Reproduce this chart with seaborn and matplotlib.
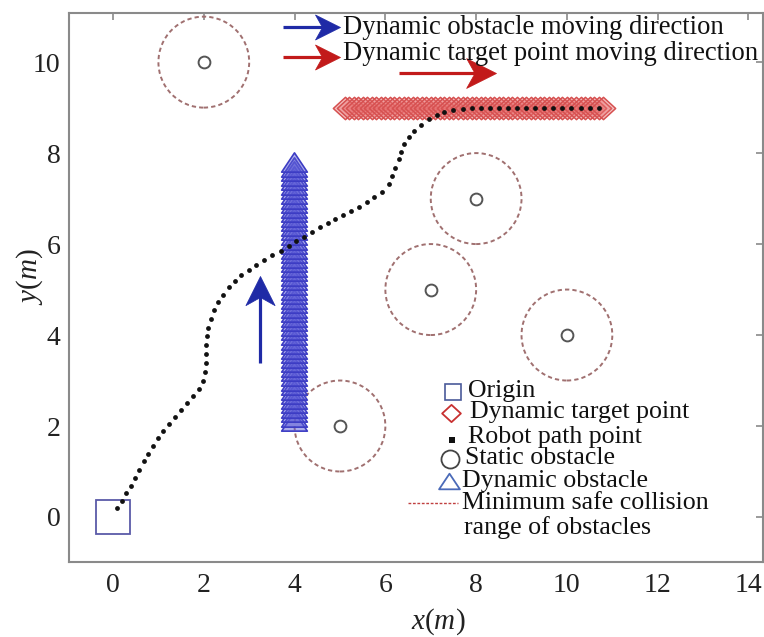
import matplotlib
matplotlib.use("Agg")
import matplotlib.pyplot as plt
import numpy as np
import pandas as pd
import seaborn as sns
from matplotlib.path import Path
from matplotlib.patches import Circle

sns.set_theme(style="white")
plt.rcParams["font.family"] = ["Liberation Serif", "DejaVu Serif"]
plt.rcParams["mathtext.fontset"] = "custom"
plt.rcParams["mathtext.rm"] = "Liberation Serif"
plt.rcParams["mathtext.it"] = "Liberation Serif:italic"

# ---------------- data ----------------
origin_x = [0.0]
origin_y = [0.0]

static_x = [2, 8, 7, 10, 5]
static_y = [10, 7, 5, 4, 2]
safe_radius = 1.0

path_x = [0.08, 0.19, 0.29, 0.39, 0.48, 0.58, 0.68, 0.78, 0.88, 0.99,
          1.10, 1.24, 1.36, 1.49, 1.63, 1.76, 1.89, 1.99, 2.03, 2.04,
          2.04, 2.04, 2.06, 2.09, 2.16, 2.23, 2.32, 2.43, 2.55, 2.69,
          2.83, 2.99, 3.16, 3.33, 3.51, 3.69, 3.87, 4.04, 4.20, 4.39,
          4.56, 4.73, 4.90, 5.07, 5.25, 5.41, 5.59, 5.75, 5.93, 6.07,
          6.15, 6.22, 6.29, 6.35, 6.42, 6.52, 6.64, 6.79, 6.96, 7.13,
          7.30, 7.50, 7.70, 7.90, 8.10, 8.30, 8.50, 8.70, 8.90, 9.10,
          9.30, 9.50, 9.70, 9.90, 10.10, 10.30, 10.50, 10.70]
path_y = [0.19, 0.35, 0.52, 0.69, 0.86, 1.04, 1.22, 1.38, 1.57, 1.73,
          1.89, 2.04, 2.19, 2.35, 2.51, 2.66, 2.81, 2.98, 3.18, 3.38,
          3.58, 3.77, 3.97, 4.16, 4.35, 4.54, 4.72, 4.89, 5.05, 5.19,
          5.33, 5.44, 5.55, 5.66, 5.75, 5.84, 5.96, 6.07, 6.16, 6.27,
          6.37, 6.47, 6.55, 6.64, 6.73, 6.82, 6.92, 7.03, 7.15, 7.31,
          7.49, 7.68, 7.86, 8.03, 8.19, 8.36, 8.49, 8.62, 8.74, 8.84,
          8.90, 8.95, 8.98, 9.00, 9.00, 9.00, 9.00, 9.00, 9.00, 9.00,
          9.00, 9.00, 9.00, 9.00, 9.00, 9.00, 9.00, 9.00]

# dynamic obstacle positions (moves upward along x = 4)
dyn_obs_y = [2.1, 2.2, 2.3, 2.4, 2.5, 2.6, 2.7, 2.8, 2.9, 3.0,
             3.1, 3.2, 3.3, 3.4, 3.5, 3.6, 3.7, 3.8, 3.9, 4.0,
             4.1, 4.2, 4.3, 4.4, 4.5, 4.6, 4.7, 4.8, 4.9, 5.0,
             5.1, 5.2, 5.3, 5.4, 5.5, 5.6, 5.7, 5.8, 5.9, 6.0,
             6.1, 6.2, 6.3, 6.4, 6.5, 6.6, 6.7, 6.8, 6.9, 7.0,
             7.1, 7.2, 7.3, 7.4, 7.5, 7.6, 7.7, 7.8]
dyn_obs_x = [3.98] * len(dyn_obs_y)

# dynamic target positions (moves right along y = 9)
dyn_tgt_x = [5.1, 5.2, 5.3, 5.4, 5.5, 5.6, 5.7, 5.8, 5.9, 6.0,
             6.1, 6.2, 6.3, 6.4, 6.5, 6.6, 6.7, 6.8, 6.9, 7.0,
             7.1, 7.2, 7.3, 7.4, 7.5, 7.6, 7.7, 7.8, 7.9, 8.0,
             8.1, 8.2, 8.3, 8.4, 8.5, 8.6, 8.7, 8.8, 8.9, 9.0,
             9.1, 9.2, 9.3, 9.4, 9.5, 9.6, 9.7, 9.8, 9.9, 10.0,
             10.1, 10.2, 10.3, 10.4, 10.5, 10.6, 10.7, 10.8]
dyn_tgt_y = [9.0] * len(dyn_tgt_x)

x_ticks = [0, 2, 4, 6, 8, 10, 12, 14]
y_ticks = [0, 2, 4, 6, 8, 10]

# ---------------- styles ----------------
BLUE_OBS = "#3c3cc4"
RED_TGT = "#d65050"
SAFE_COL = "#a07070"
STATIC_COL = "#555555"
ARROW_BLUE = "#1f2aa6"
ARROW_RED = "#c21a1a"
SPINE = "#8a8a8a"

tri_marker = Path([(0, 0.75), (-1, -0.75), (1, -0.75), (0, 0.75)],
                  [Path.MOVETO, Path.LINETO, Path.LINETO, Path.CLOSEPOLY])
dia_marker = Path([(-1, 0), (0, 0.92), (1, 0), (0, -0.92), (-1, 0)],
                  [Path.MOVETO, Path.LINETO, Path.LINETO, Path.LINETO, Path.CLOSEPOLY])


def head_marker(angle):
    """Notched arrow head with its tip at the origin."""
    verts = np.array([(0, 0), (-1, 0.5), (-0.72, 0), (-1, -0.5), (0, 0)])
    a = np.deg2rad(angle)
    rot = np.array([[np.cos(a), -np.sin(a)], [np.sin(a), np.cos(a)]])
    verts = verts @ rot.T
    return Path(verts, [Path.MOVETO, Path.LINETO, Path.LINETO, Path.LINETO,
                        Path.CLOSEPOLY])


fig = plt.figure(figsize=(7.64, 6.37), dpi=100)
ax = fig.add_axes([69 / 764, 1 - 562 / 637, 694 / 764, 549 / 637])

# safety ranges around the static obstacles
for cx, cy in zip(static_x, static_y):
    ax.add_patch(Circle((cx, cy), safe_radius, fill=False, ec=SAFE_COL,
                        lw=1.4, ls=(0, (2.2, 1.6)), zorder=1))

# static obstacles
ax.plot(static_x, static_y, ls="none", marker="o", ms=8.5, mfc="none",
        mec=STATIC_COL, mew=1.4, zorder=2)

# dynamic obstacle trace
ax.plot(dyn_obs_x, dyn_obs_y, ls="none", marker=tri_marker, ms=18.5,
        mfc=(0.36, 0.36, 0.84, 0.5), mec=BLUE_OBS, mew=1.2, zorder=3)

# dynamic target trace
ax.plot(dyn_tgt_x, dyn_tgt_y, ls="none", marker=dia_marker, ms=17.5,
        mfc=(0.9, 0.42, 0.42, 0.4), mec=RED_TGT, mew=1.1, zorder=3)

# origin
ax.plot(origin_x, origin_y, ls="none", marker="s", ms=24.5, mfc="none",
        mec="#5a5aa8", mew=1.3, zorder=4)

# robot path
path_df = pd.DataFrame({"x": path_x, "y": path_y})
sns.scatterplot(data=path_df, x="x", y="y", ax=ax, color="#111111", s=12,
                linewidth=0, zorder=5, legend=False)

# direction arrows
arrows = [
    ((3.23, 3.38), (3.23, 5.30), ARROW_BLUE, 42),
    ((6.29, 9.75), (8.43, 9.75), ARROW_RED, 43),
    ((3.74, 10.77), (5.00, 10.77), ARROW_BLUE, 36),
    ((3.74, 10.11), (5.00, 10.11), ARROW_RED, 36),
]
for (x0, y0), (x1, y1), col, size in arrows:
    ang = np.degrees(np.arctan2(y1 - y0, x1 - x0))
    ax.plot([x0, x1 - 0.25 * np.cos(np.deg2rad(ang))],
            [y0, y1 - 0.25 * np.sin(np.deg2rad(ang))],
            color=col, lw=2.3, solid_capstyle="butt", zorder=6, clip_on=False)
    ax.plot([x1], [y1], ls="none", marker=head_marker(ang), ms=size,
            mfc=col, mec=col, mew=0.5, zorder=6, clip_on=False)

TXT = 19.2
KEY_TXT = 18.6
ax.text(5.07, 10.76, "Dynamic obstacle moving direction", fontsize=TXT,
        va="center", ha="left", color="#111111", zorder=7)
ax.text(5.07, 10.19, "Dynamic target point moving direction", fontsize=TXT,
        va="center", ha="left", color="#111111", zorder=7)

# key for the symbols
key_items = [
    (7.48, 2.75, "s", 12, "#4a5a9a", 1.2, 7.82, 2.78, "Origin"),
    (7.44, 2.29, dia_marker, 13.5, "#c83030", 1.3, 7.87, 2.31, "Dynamic target point"),
    (7.46, 1.69, "s", 4.5, "#111111", 0, 7.82, 1.76, "Robot path point"),
    (7.42, 1.27, "o", 13, "#444444", 1.3, 7.76, 1.29, "Static obstacle"),
    (7.40, 0.79, tri_marker, 15, "#4a6ab8", 1.3, 7.69, 0.80, "Dynamic obstacle"),
]
for mx, my, mk, ms, mc, mw, tx, ty, label in key_items:
    filled = mw == 0
    ax.plot([mx], [my], ls="none", marker=mk, ms=ms,
            mfc=mc if filled else "none", mec=mc, mew=mw, zorder=7)
    ax.text(tx, ty, label, fontsize=KEY_TXT, va="center", ha="left",
            color="#111111", zorder=7)
ax.plot([6.50, 7.60], [0.31, 0.31], color="#c04040", lw=1.0,
        ls=(0, (2, 1.2)), zorder=7)
ax.text(7.69, 0.31, "Minimum safe collision", fontsize=KEY_TXT, va="center",
        ha="left", color="#111111", zorder=7)
ax.text(7.73, -0.23, "range of obstacles", fontsize=KEY_TXT, va="center",
        ha="left", color="#111111", zorder=7)

# axes
ax.set_xlim(-0.97, 14.32)
ax.set_ylim(-0.99, 11.08)
ax.set_xticks(x_ticks)
ax.set_yticks(y_ticks)
ax.tick_params(direction="in", length=5, width=1.2, color=SPINE,
               labelsize=20, labelcolor="#222222", top=True, right=True)
ax.tick_params(axis="x", pad=8)
ax.tick_params(axis="y", pad=6)
for sp in ax.spines.values():
    sp.set_color(SPINE)
    sp.set_linewidth(1.5)
ax.set_xlabel(r"$x(m)$", fontsize=21, color="#222222")
ax.set_ylabel(r"$y(m)$", fontsize=21, color="#222222")
ax.xaxis.set_label_coords(0.532, -0.080)
ax.yaxis.set_label_coords(-0.035, 0.519)
ax.set_facecolor("white")
fig.patch.set_facecolor("white")

fig.savefig("out.png", dpi=100)
